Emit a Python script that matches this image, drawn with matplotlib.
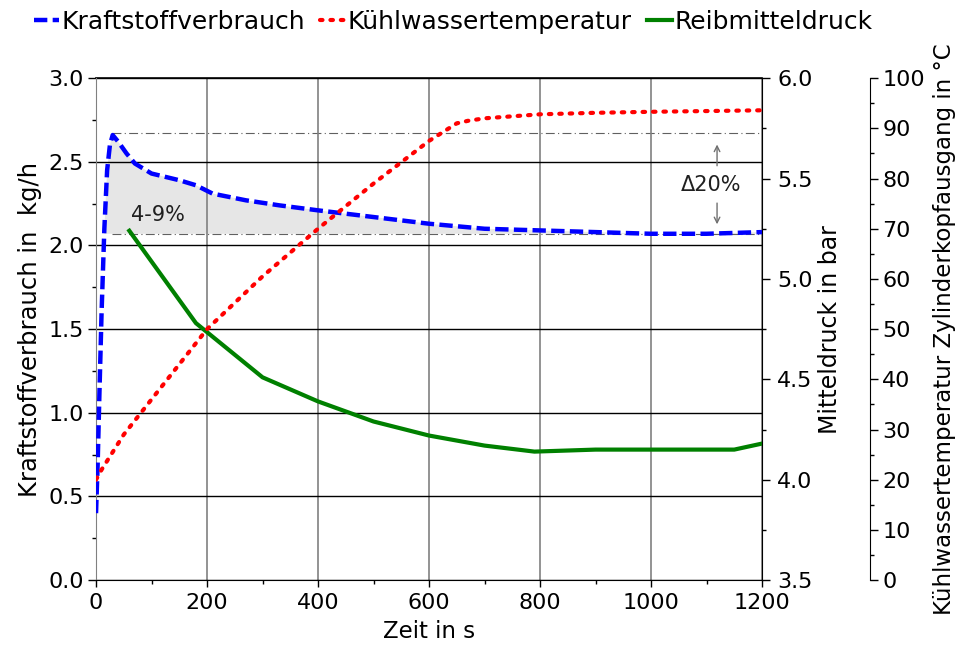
import numpy as np
import matplotlib
matplotlib.use("Agg")
import matplotlib.pyplot as plt
from matplotlib.ticker import MultipleLocator

plt.rcParams['font.family'] = ['DejaVu Sans']

# Kraftstoffverbrauch in kg/h
t_fuel = [0, 3, 6, 10, 15, 20, 25, 30, 40, 55, 70, 100, 150, 180, 210, 270, 330,
          400, 500, 600, 700, 800, 900, 1000, 1100, 1200]
fuel = [0.40, 0.70, 1.10, 1.60, 2.10, 2.45, 2.60, 2.66, 2.62, 2.55, 2.49, 2.43, 2.39,
        2.36, 2.31, 2.27, 2.24, 2.21, 2.17, 2.13, 2.10, 2.09, 2.08, 2.07, 2.07, 2.08]

# Kühlwassertemperatur in °C
t_temp = [0, 10, 50, 100, 150, 200, 300, 400, 500, 600, 650, 670, 700, 800, 900, 1000, 1200]
temp = [20, 22, 29, 36, 43, 50, 60.5, 70, 79, 87.5, 91, 91.5, 92, 92.8, 93.1, 93.3, 93.6]

# Reibmitteldruck in bar
t_fric = [60, 180, 300, 400, 500, 600, 700, 790, 900, 1000, 1150, 1200]
fric = [5.24, 4.78, 4.51, 4.39, 4.29, 4.22, 4.17, 4.14, 4.15, 4.15, 4.15, 4.18]

fuel_max = 2.67
fuel_end = 2.07

fig = plt.figure(figsize=(9.68, 6.46), dpi=100)
ax = fig.add_axes([0.0992, 0.102, 0.688, 0.777])
ax2 = ax.twinx()
ax3 = ax.twinx()
ax3.spines['right'].set_position(('axes', 1.162))

# shaded area between curve and end level
ax.fill_between(t_fuel, fuel, fuel_end, where=np.array(fuel) > fuel_end,
                interpolate=True, color='#e6e6e6', zorder=0.5, lw=0)
ax.hlines([fuel_max, fuel_end], 28, 1200, colors='#606060', lw=0.8,
          linestyles=(0, (8, 3, 1, 3)), zorder=1)

l1, = ax.plot(t_fuel, fuel, color='#0000ff', lw=3.2, ls=(0, (3, 1.2)), zorder=3,
              label='Kraftstoffverbrauch')
l2, = ax3.plot(t_temp, temp, color='#ff0000', lw=3, ls=(0, (0.6, 1.9)),
               dash_capstyle='round', label='Kühlwassertemperatur')
l3, = ax2.plot(t_fric, fric, color='#008000', lw=3, label='Reibmitteldruck')

ax.set_xlim(0, 1200)
ax.set_ylim(0, 3.0)
ax2.set_ylim(3.5, 6.0)
ax3.set_ylim(0, 100)

ax.xaxis.set_major_locator(MultipleLocator(200))
ax.xaxis.set_minor_locator(MultipleLocator(100))
ax.yaxis.set_major_locator(MultipleLocator(0.5))
ax.yaxis.set_minor_locator(MultipleLocator(0.25))
ax2.yaxis.set_major_locator(MultipleLocator(0.5))
ax2.yaxis.set_minor_locator(MultipleLocator(0.25))
ax3.yaxis.set_major_locator(MultipleLocator(10))
ax3.yaxis.set_minor_locator(MultipleLocator(5))

ax.grid(True, axis='y', color='black', lw=1)
ax.grid(True, axis='x', color='#808080', lw=1.2)
ax.yaxis.set_major_formatter(plt.FormatStrFormatter('%.1f'))
ax2.yaxis.set_major_formatter(plt.FormatStrFormatter('%.1f'))

for a in (ax, ax2, ax3):
    a.tick_params(which='major', direction='out', length=6, labelsize=16, width=1, pad=3)
    a.tick_params(which='minor', direction='out', length=3, width=1)
ax.tick_params(axis='x', which='major', length=5, pad=4)
ax2.tick_params(axis='y', which='major', pad=5)
ax.spines['left'].set_color('#808080')
ax.spines['bottom'].set_color('black')
for s in ('top', 'right'):
    ax.spines[s].set_visible(False)
for a in (ax2, ax3):
    for s in ('top', 'left', 'bottom'):
        a.spines[s].set_visible(False)
ax.axhline(3.0, color='black', lw=1.2, zorder=2, clip_on=False)

ax.set_xlabel('Zeit in s', fontsize=16.5, labelpad=5)
ax.set_ylabel('Kraftstoffverbrauch in  kg/h', fontsize=17.5, labelpad=4)
ax2.set_ylabel('Mitteldruck in bar', fontsize=17, labelpad=4)
ax3.set_ylabel('Kühlwassertemperatur Zylinderkopfausgang in °C', fontsize=16.5, labelpad=6)

ax.text(112, 2.18, '4-9%', fontsize=15, ha='center', va='center', color='#202020')
ax.text(1108, 2.36, '\u039420%', fontsize=15, ha='center', va='center', color='#202020')
ax.annotate('', xy=(1119, 2.62), xytext=(1119, 2.46),
            arrowprops=dict(arrowstyle='->', color='#707070', lw=1))
ax.annotate('', xy=(1119, 2.11), xytext=(1119, 2.27),
            arrowprops=dict(arrowstyle='->', color='#707070', lw=1))

fig.legend(handles=[l1, l2, l3], loc='center', bbox_to_anchor=(0.468, 0.966),
           ncol=3, frameon=False, fontsize=18, handlelength=1.0, handletextpad=0.1,
           columnspacing=0.6)

fig.savefig('out.png', dpi=100)
